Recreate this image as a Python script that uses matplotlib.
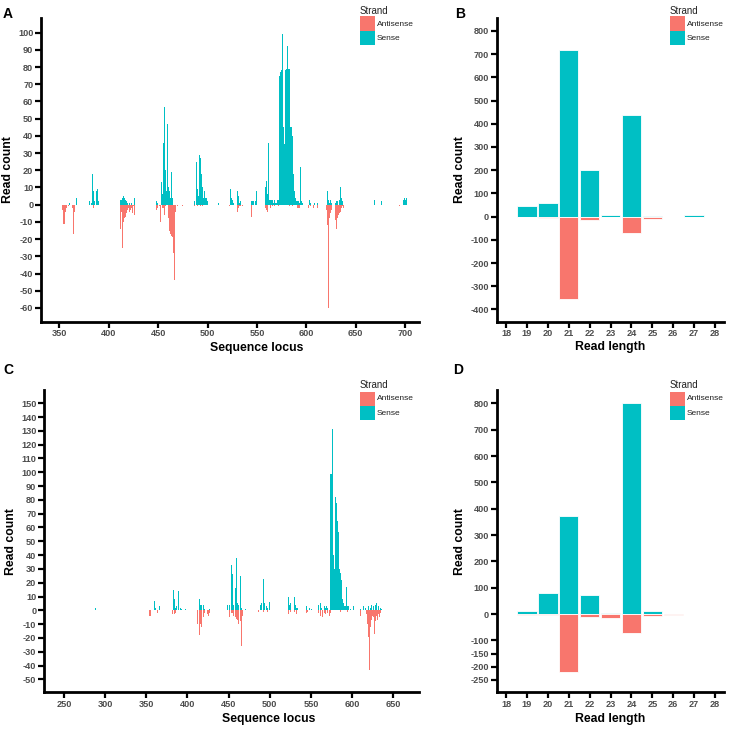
import matplotlib
matplotlib.use("Agg")
import matplotlib.pyplot as plt
from matplotlib.patches import Rectangle

plt.rcParams['font.family'] = ['Liberation Sans', 'DejaVu Sans']
plt.rcParams['axes.unicode_minus'] = False

SENSE = '#00BFC4'
ANTI = '#F8766D'

# Panel A: read count per sequence locus
a_sense_pos = [360, 367, 381, 383, 384, 385, 386, 388, 389, 390,
               412, 413, 414, 415, 416, 417, 418, 419, 421, 423, 426,
               448, 449, 453, 454, 455, 456, 457, 458, 459, 460, 461, 462, 463, 464, 465,
               487, 489, 490, 491, 492, 493, 494, 495, 496, 497, 498, 499, 500,
               511, 523, 524, 525, 526, 530, 531, 532, 533,
               544, 545, 546, 547, 549, 550,
               559, 560, 561, 562, 563, 564, 565, 566, 567, 568, 569, 570, 571, 572,
               573, 574, 575, 576, 577, 578, 579, 580, 581, 582, 583, 584,
               585, 586, 587, 588, 589, 590, 591, 592, 593, 594, 595, 596,
               603, 604, 608, 611,
               621, 622, 623, 624, 625, 630, 631, 632, 634, 635, 636, 637,
               669, 676, 698, 699, 700, 701]
a_sense_val = [1, 4, 2, 1, 18, 8, 2, 8, 9, 2,
               3, 3, 4, 5, 4, 3, 2, 1, 1, 1, 4,
               2, 1, 13, 6, 36, 57, 20, 8, 8, 47, 10, 8, 4, 19, 4,
               2, 25, 9, 5, 29, 27, 18, 10, 4, 8, 4, 4, 2,
               1, 9, 4, 3, 1, 8, 5, 1, 2,
               22, 2, 2, 2, 2, 8,
               10, 14, 6, 36, 3, 3, 3, 3, 1, 3, 1, 1, 3, 3,
               75, 77, 78, 99, 45, 35, 78, 79, 92, 79, 79, 45,
               45, 40, 18, 8, 4, 2, 2, 2, 1, 22, 2, 1,
               3, 1, 1, 1,
               8, 3, 1, 3, 1, 1, 2, 2, 3, 10, 4, 2,
               3, 2, 3, 4, 3, 4]
a_anti_pos = [353, 354, 355, 356, 357, 359, 363, 364, 365, 385,
              412, 413, 414, 415, 416, 417, 418, 419, 420, 421, 422, 423, 424, 425, 426,
              448, 449, 451, 452, 454, 455, 456, 457, 459, 461, 462, 463, 464, 465, 466, 467, 468,
              470, 475, 487, 490, 493, 495,
              522, 530, 531, 532, 533, 535, 544, 545,
              559, 560, 561, 564, 566, 568, 572,
              583, 586, 591, 592, 593, 602, 604, 607, 611,
              620, 621, 622, 623, 624, 625, 629, 630, 631, 632, 633, 634, 635, 636, 637, 638,
              694]
a_anti_val = [-3, -11, -11, -4, -2, -1, -2, -17, -4, -2,
              -14, -4, -25, -10, -8, -7, -5, -3, -2, -4, -3, -2, -5, -1, -6,
              -3, -2, -1, -10, -2, -2, -6, -1, -2, -8, -15, -17, -18, -19, -28, -44, -4,
              -1, -1, -1, -1, -1, -1,
              -1, -4, -2, -1, -1, -1, -4, -7,
              -2, -3, -4, -2, -1, -1, -1,
              -1, -1, -2, -2, -2, -2, -1, -2, -2,
              -3, -12, -60, -8, -5, -3, -5, -9, -14, -8, -6, -5, -4, -2, -1, -2,
              -1]

# Panel C: read count per sequence locus
c_sense_pos = [288, 360, 361, 363, 366, 374,
               383, 384, 385, 387, 389, 391, 392, 393, 398,
               414, 415, 416, 417, 419, 420, 421, 425, 427,
               448, 449, 451, 453, 454, 455, 456, 458, 459, 460, 461, 462, 464, 465, 466, 470,
               488, 489, 490, 492, 493, 494, 496, 497, 499, 500,
               523, 524, 525, 527, 530, 531, 532, 534,
               544, 545, 548, 550, 551,
               559, 561, 562, 563, 566, 568, 569, 570, 572,
               574, 575, 576, 577, 578, 579, 580, 581, 582, 583, 584,
               585, 586, 587, 588, 589, 590, 591, 592, 593, 594,
               596, 598, 601, 602, 606, 610,
               612, 614, 616, 618, 620, 622, 624, 626, 628, 630, 632, 634, 636]
c_sense_val = [2, 7, 2, 1, 3, 1,
               15, 8, 2, 3, 14, 3, 2, 1, 1,
               5, 8, 4, 4, 4, 1, 1, 2, 1,
               4, 4, 4, 33, 28, 26, 4, 16, 8, 38, 5, 4, 25, 4, 2, 1,
               7, 4, 5, 23, 12, 5, 3, 2, 3, 6,
               10, 4, 5, 2, 10, 4, 2, 2,
               10, 3, 2, 4, 1,
               4, 26, 5, 2, 3, 2, 3, 2, 3,
               99, 99, 131, 40, 30, 30, 82, 78, 65, 57, 48,
               30, 27, 22, 8, 7, 5, 3, 3, 17, 3,
               3, 1, 3, 3, 2, 1,
               2, 3, 2, 3, 3, 2, 4, 3, 4, 5, 3, 2, 1]
c_anti_pos = [354, 355, 357, 363, 364, 382, 384, 385,
              412, 414, 415, 416, 417, 419, 420, 421, 424, 426, 427,
              451, 453, 454, 455, 456, 458, 459, 460, 461, 462, 464, 465, 466, 467,
              486, 492, 497,
              523, 525, 530, 532, 533, 545, 546,
              559, 562, 564, 566, 568, 570, 572, 573, 574,
              586, 594, 606, 610, 612,
              617, 618, 619, 620, 621, 622, 623, 624, 625, 626, 627, 628, 629, 630,
              631, 632, 633, 634, 635]
c_anti_val = [-4, -4, -2, -10, -2, -3, -3, -2,
              -10, -26, -18, -10, -12, -5, -3, -2, -3, -4, -2,
              -5, -2, -5, -2, -4, -5, -8, -6, -7, -10, -8, -12, -26, -4,
              -1, -1, -1,
              -3, -1, -1, -3, -1, -2, -1,
              -2, -4, -5, -2, -3, -2, -2, -4, -2,
              -1, -1, -2, -4, -2,
              -3, -5, -10, -19, -43, -12, -8, -7, -4, -5, -17, -8, -12, -4,
              -7, -3, -5, -2, -3]

# Panels B and D: read count per read length
read_len = [18, 19, 20, 21, 22, 23, 24, 25, 26, 27, 28]
b_sense = [0, 47, 59, 719, 200, 5, 437, 2, 0, 5, 0]
b_anti = [0, -3, -8, -355, -15, -2, -70, -12, -3, 0, 0]
d_sense = [0, 12, 79, 372, 71, 6, 800, 10, 0, 0, 0]
d_anti = [0, -3, -3, -219, -11, -14, -73, -6, -3, 0, 0]

W, H = 733, 729
fig = plt.figure(figsize=(W / 100, H / 100), dpi=100)


def box(x0, y0, x1, y1):
    # pixel box -> figure fraction [left, bottom, width, height]
    return [x0 / W, 1 - y1 / H, (x1 - x0) / W, (y1 - y0) / H]


def style(ax, yticks, xticks):
    for s in ['top', 'right']:
        ax.spines[s].set_visible(False)
    for s in ['left', 'bottom']:
        ax.spines[s].set_linewidth(2.0)
    ax.tick_params(length=4, width=1.6, pad=1.5, labelsize=6.6,
                   labelcolor='#4D4D4D', color='black')
    ax.set_yticks(yticks)
    ax.set_xticks(xticks)
    for lab in ax.get_xticklabels() + ax.get_yticklabels():
        lab.set_fontweight('bold')
    ax.set_ylabel('Read count', fontsize=8.8, fontweight='bold', labelpad=3)


axA = fig.add_axes(box(41, 18, 419, 321.7))
axA.bar(a_sense_pos, a_sense_val, width=1.0, color=SENSE, linewidth=0)
axA.bar(a_anti_pos, a_anti_val, width=1.0, color=ANTI, linewidth=0)
axA.set_xlim(331.5, 714)
axA.set_ylim(-68, 108.5)
style(axA, list(range(-60, 101, 10)), list(range(350, 701, 50)))
axA.set_xlabel('Sequence locus', fontsize=8.8, fontweight='bold')
axA.xaxis.set_label_coords(0.571, -0.068)

axB = fig.add_axes(box(496.7, 18, 724, 321.7))
axB.bar(read_len, b_sense, width=0.93, color=SENSE, edgecolor='white', linewidth=0.6)
axB.bar(read_len, b_anti, width=0.93, color=ANTI, edgecolor='white', linewidth=0.6)
axB.set_xlim(17.55, 28.43)
axB.set_ylim(-453, 856)
style(axB, list(range(-400, 801, 100)), read_len)
axB.set_xlabel('Read length', fontsize=8.8, fontweight='bold', labelpad=2)

axC = fig.add_axes(box(44, 390, 419.3, 692.3))
axC.bar(c_sense_pos, c_sense_val, width=1.0, color=SENSE, linewidth=0)
axC.bar(c_anti_pos, c_anti_val, width=1.0, color=ANTI, linewidth=0)
axC.set_xlim(225.7, 681.6)
axC.set_ylim(-59.4, 159.6)
style(axC, list(range(-50, 151, 10)), list(range(250, 651, 50)))
axC.set_xlabel('Sequence locus', fontsize=8.8, fontweight='bold')
axC.xaxis.set_label_coords(0.600, -0.068)

axD = fig.add_axes(box(496.7, 390, 724, 692.3))
axD.bar(read_len, d_sense, width=0.93, color=SENSE, edgecolor='white', linewidth=0.6)
axD.bar(read_len, d_anti, width=0.93, color=ANTI, edgecolor='white', linewidth=0.6)
axD.set_xlim(17.55, 28.43)
axD.set_ylim(-297, 851)
style(axD, [-250, -200, -150, -100] + list(range(0, 801, 100)), read_len)
axD.set_xlabel('Read length', fontsize=8.8, fontweight='bold', labelpad=3)

# panel letters
for lab, x, y in [('A', 3, 14.5), ('B', 455, 14.5), ('C', 3, 370), ('D', 453, 370)]:
    fig.text(x / W, 1 - y / H, lab, fontsize=10, fontweight='bold', va='center', ha='left')


# legends
def legend(x, y):
    fig.text(x / W, 1 - y / H, 'Strand', fontsize=7, color='#222222', va='center', ha='left')
    for i, (c, name) in enumerate([(ANTI, 'Antisense'), (SENSE, 'Sense')]):
        y0 = y + 6 + i * 14.2
        fig.add_artist(Rectangle((x / W, 1 - (y0 + 14.2) / H), 15 / W, 14.2 / H,
                                 transform=fig.transFigure, facecolor=c, edgecolor='none'))
        fig.text((x + 17) / W, 1 - (y0 + 7.5) / H, name, fontsize=6, color='#222222',
                 va='center', ha='left')


legend(360, 10.5)
legend(670, 10.5)
legend(360, 385.5)
legend(670, 385.5)

fig.savefig('out.png', dpi=100)
